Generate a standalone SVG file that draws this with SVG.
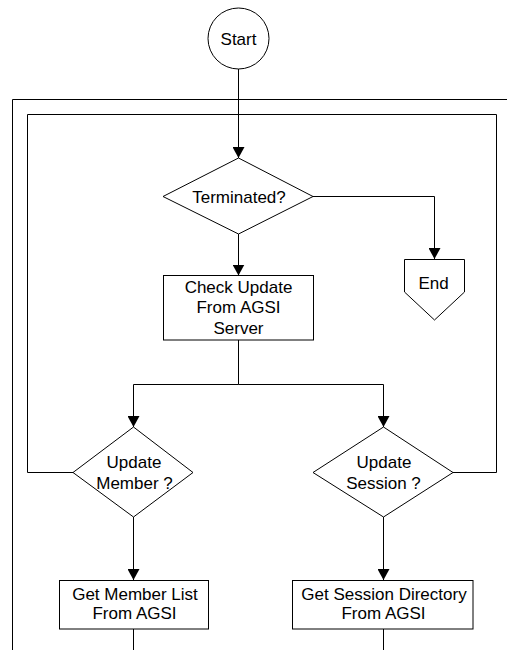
<svg xmlns="http://www.w3.org/2000/svg" width="507" height="650" viewBox="0 0 507 650">
<style>
.s{fill:#fff;stroke:#000;stroke-width:1}
.c{fill:none;stroke:#000;stroke-width:1}
text{font-family:"Liberation Sans",Arial,sans-serif;font-size:17px;fill:#000;text-anchor:middle}
</style>
<defs>
<marker id="a" markerUnits="userSpaceOnUse" markerWidth="12" markerHeight="12" viewBox="0 0 12 12" refX="11" refY="6" orient="auto">
<path d="M0,0 L11,6 L0,12 Z" fill="#000"/>
</marker>
</defs>
<rect width="507" height="650" fill="#fff"/>
<g id="connectors">
<path class="c" d="M12.5,650 V99.5 H507"/>
<path class="c" d="M73,472.5 H27.5 V114.5 H496.5 V472.5 H453"/>
<path class="c" d="M238.5,69 V158" marker-end="url(#a)"/>
<path class="c" d="M238.5,234 V275.5" marker-end="url(#a)"/>
<path class="c" d="M313,196.5 H434.5 V259" marker-end="url(#a)"/>
<path class="c" d="M238.5,340 V384.5"/>
<path class="c" d="M238.5,384.5 H133.5 V427" marker-end="url(#a)"/>
<path class="c" d="M238.5,384.5 H383.5 V427" marker-end="url(#a)"/>
<path class="c" d="M133.5,517 V580" marker-end="url(#a)"/>
<path class="c" d="M383.5,517 V580" marker-end="url(#a)"/>
<path class="c" d="M133.5,629 V650"/>
<path class="c" d="M383.5,629 V650"/>
</g>
<g id="start">
<circle class="s" cx="238.5" cy="38.5" r="30.5"/>
<text x="238.5" y="44.5">Start</text>
</g>
<g id="terminated">
<polygon class="s" points="238.5,158 313,196.5 238.5,234 163,196.5"/>
<text x="239" y="203">Terminated?</text>
</g>
<g id="end">
<polygon class="s" points="404.5,259.5 464.5,259.5 464.5,292 434.5,320 404.5,292"/>
<text x="433.5" y="288.5">End</text>
</g>
<g id="check">
<rect class="s" x="163.5" y="275.5" width="150" height="64.5"/>
<text x="238.5" y="292.5">Check Update</text>
<text x="238.5" y="313">From AGSI</text>
<text x="238.5" y="333.5">Server</text>
</g>
<g id="updMember">
<polygon class="s" points="133.5,427 193,472.5 133.5,517 73,472.5"/>
<text x="134" y="467.5">Update</text>
<text x="134.5" y="488.5">Member ?</text>
</g>
<g id="updSession">
<polygon class="s" points="383.5,427 453,472.5 383.5,517 313,472.5"/>
<text x="384" y="467.5">Update</text>
<text x="383.5" y="488.5">Session ?</text>
</g>
<g id="getMember">
<rect class="s" x="59.5" y="580.5" width="149" height="48.5"/>
<text x="135" y="599.5">Get Member List</text>
<text x="134.5" y="618.5">From AGSI</text>
</g>
<g id="getSession">
<rect class="s" x="292.5" y="580.5" width="180.5" height="48.5"/>
<text x="384" y="599.5">Get Session Directory</text>
<text x="383.5" y="618.5">From AGSI</text>
</g>
</svg>
